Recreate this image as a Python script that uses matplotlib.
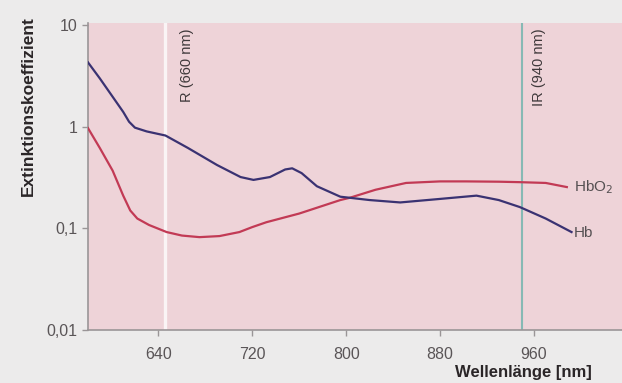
import matplotlib
matplotlib.use("Agg")
import matplotlib.pyplot as plt
from matplotlib.ticker import FixedLocator, NullLocator

# Data
hb_wl = [580, 590, 600, 610, 615, 620, 630, 646, 665, 690, 710, 721, 735, 748, 754, 762, 775, 795, 820, 846, 880, 911, 930, 948, 970, 992]
hb_val = [4.3, 3.0, 2.05, 1.4, 1.12, 0.98, 0.9, 0.82, 0.62, 0.42, 0.32, 0.30, 0.32, 0.38, 0.39, 0.35, 0.26, 0.205, 0.19, 0.18, 0.195, 0.21, 0.19, 0.162, 0.125, 0.092]
hbo2_wl = [580, 590, 601, 610, 616, 622, 632, 647, 660, 675, 692, 709, 720, 732, 760, 795, 803, 825, 851, 880, 902, 930, 948, 970, 988]
hbo2_val = [0.97, 0.62, 0.37, 0.21, 0.15, 0.125, 0.108, 0.092, 0.085, 0.082, 0.084, 0.092, 0.103, 0.115, 0.14, 0.19, 0.20, 0.24, 0.28, 0.29, 0.29, 0.288, 0.285, 0.28, 0.255]
x_ticks = [640, 720, 800, 880, 960]
y_ticks = [0.01, 0.1, 1, 10]
y_ticklabels = ["0,01", "0,1", "1", "10"]
r_line = 646
ir_line = 950

fam = ["Liberation Sans", "DejaVu Sans"]
plt.rcParams['font.family'] = fam

fig = plt.figure(figsize=(6.22, 3.83), dpi=100)
fig.patch.set_facecolor("#ecebeb")
ax = fig.add_axes([88/622, 1-330/383, 1-88/622, (330-23)/383])
ax.set_facecolor("#eed3d8")
ax.set_yscale("log")
ax.set_xlim(580, 1035)
ax.set_ylim(0.01, 10.5)

ax.axvline(r_line, color="#faf4f5", lw=2.4, zorder=1)
ax.axvline(ir_line, color="#86b9b4", lw=1.5, zorder=1)

ax.plot(hbo2_wl, hbo2_val, color="#c23a55", lw=1.6, zorder=3)
ax.plot(hb_wl, hb_val, color="#3a3272", lw=1.6, zorder=3)

ax.text(r_line + 18, 9.3, "R (660 nm)", rotation=90, va="top", ha="center",
        fontsize=10.5, color="#3f393b")
ax.text(ir_line + 14, 9.3, "IR (940 nm)", rotation=90, va="top", ha="center",
        fontsize=10.5, color="#3f393b")

ax.text(994, 0.255, "HbO$_2$", va="center", ha="left", fontsize=11, color="#555052")
ax.text(994, 0.09, "Hb", va="center", ha="left", fontsize=11, color="#555052")

for s in ["top", "right"]:
    ax.spines[s].set_visible(False)
ax.spines["left"].set_color("#9a9597")
ax.spines["bottom"].set_color("#9a9597")
ax.spines["left"].set_linewidth(1.2)
ax.spines["bottom"].set_linewidth(1.2)

ax.yaxis.set_major_locator(FixedLocator(y_ticks))
ax.yaxis.set_minor_locator(NullLocator())
ax.set_yticklabels(y_ticklabels)
ax.set_xticks(x_ticks)
ax.tick_params(axis="both", colors="#9a9597", labelcolor="#5a5557", labelsize=11.5, length=4, width=1)
ax.tick_params(axis="x", pad=8)

fig.text(28/622, 1-106/383, "Extinktionskoeffizient", rotation=90, va="center", ha="center",
         fontsize=12.5, fontweight="bold", color="#2a2527")
fig.text(455/622, 1-372/383, "Wellenlänge [nm]", va="center", ha="left",
         fontsize=12, fontweight="bold", color="#2a2527")

fig.savefig("out.png", dpi=100, facecolor=fig.get_facecolor())
